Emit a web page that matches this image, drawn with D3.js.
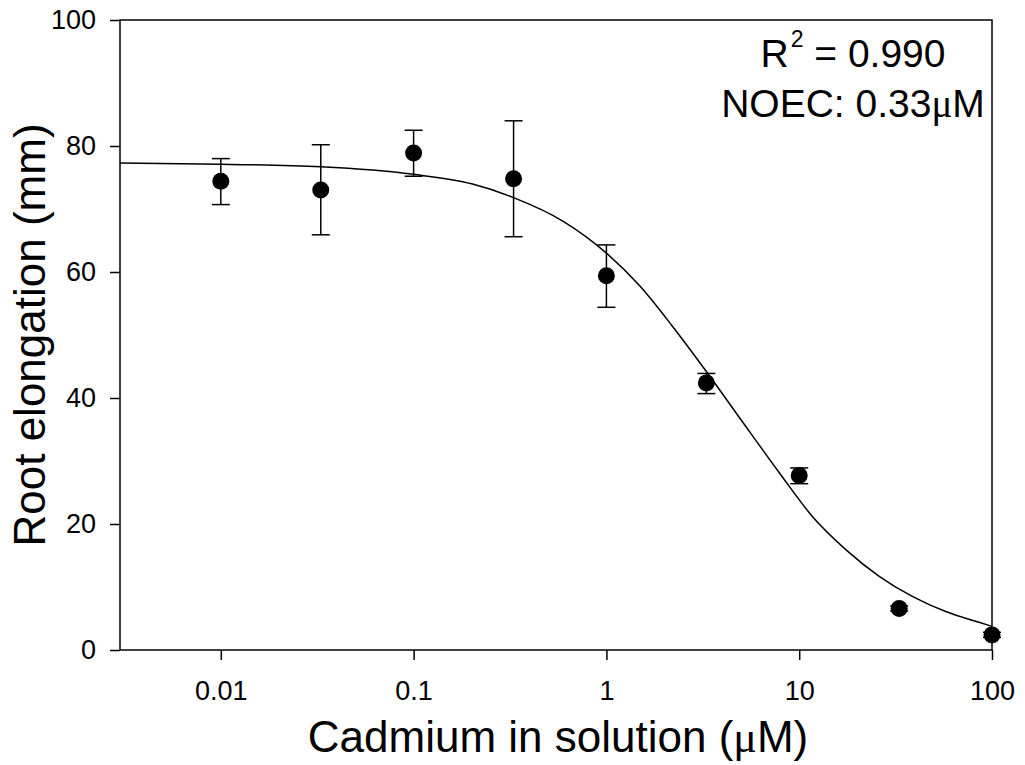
<!DOCTYPE html>
<html>
<head>
<meta charset="utf-8">
<script src="https://cdn.jsdelivr.net/npm/d3@7"></script>
<style>
  html, body { margin: 0; padding: 0; background: #fff; }
  svg { display: block; }
  text { font-family: "Liberation Sans", Arial, sans-serif; fill: #000; }
</style>
</head>
<body>
<svg id="chart" width="1025" height="765"></svg>
<script>
// ---- Data ----
const concentrations = [0.01, 0.033, 0.1, 0.33, 1, 3.3, 10, 33, 100];
const meanElongation = [74.4, 73.0, 78.9, 74.8, 59.4, 42.4, 27.7, 6.6, 2.4];
const errorUpper     = [78.0, 80.2, 82.5, 84.0, 64.3, 43.9, 28.9, 7.0, 2.8];
const errorLower     = [70.7, 65.9, 75.2, 65.6, 54.4, 40.7, 26.4, 6.2, 2.0];

// fitted curve, points
const curveX = [0.003, 0.01, 0.033, 0.1, 0.2, 0.33, 0.6, 1, 1.5, 2.2, 3.3, 5, 7.9, 11.7, 17.5, 26, 38.6, 57.5, 85.6, 100];
const curveY = [77.3, 77.1, 76.7, 75.5, 74.0, 71.8, 68.0, 63.0, 57.7, 51.4, 44.2, 36.5, 28.1, 21.2, 15.9, 11.7, 8.5, 6.1, 4.4, 3.75];

const xTicks = [0.01, 0.1, 1, 10, 100];
const xTickLabels = ["0.01", "0.1", "1", "10", "100"];
const yTicks = [0, 20, 40, 60, 80, 100];

const xDomain = [0.003, 100];
const yDomain = [0, 100];

// ---- Layout ----
const W = 1025, H = 765;
const margin = { left: 120, right: 33, top: 20, bottom: 115 };
const pw = W - margin.left - margin.right;
const ph = H - margin.top - margin.bottom;

const svg = d3.select("#chart");
const g = svg.append("g").attr("transform", `translate(${margin.left},${margin.top})`);

const x = d3.scaleLog().domain(xDomain).range([0, pw]);
const y = d3.scaleLinear().domain(yDomain).range([ph, 0]);

// Axes
const xAxis = d3.axisBottom(x)
  .tickValues(xTicks)
  .tickFormat((d, i) => xTickLabels[i])
  .tickSizeInner(10).tickSizeOuter(0).tickPadding(21);
const yAxis = d3.axisLeft(y)
  .tickValues(yTicks)
  .tickFormat(d3.format("d"))
  .tickSizeInner(10).tickSizeOuter(0).tickPadding(14);

const gx = g.append("g").attr("transform", `translate(0,${ph})`).call(xAxis);
const gy = g.append("g").call(yAxis);
[gx, gy].forEach(a => {
  a.select(".domain").remove();
  a.selectAll(".tick line").attr("stroke", "#000").attr("stroke-width", 1.5);
  a.selectAll(".tick text").attr("font-size", 27).attr("font-family", "Liberation Sans, Arial, sans-serif").attr("fill", "#000");
});

// Frame
g.append("rect")
  .attr("x", 0).attr("y", 0).attr("width", pw).attr("height", ph)
  .attr("fill", "none").attr("stroke", "#000").attr("stroke-width", 1.5);

// Fitted curve
const curvePts = curveX.map((v, i) => [v, curveY[i]]);
g.append("path")
  .datum(curvePts)
  .attr("fill", "none").attr("stroke", "#000").attr("stroke-width", 1.5)
  .attr("d", d3.line().x(d => x(d[0])).y(d => y(d[1])).curve(d3.curveMonotoneX));

// Error bars
const pts = concentrations.map((c, i) => ({ c, m: meanElongation[i], hi: errorUpper[i], lo: errorLower[i] }));
const capW = 9;
const eb = g.append("g").attr("stroke", "#000").attr("stroke-width", 1.5);
pts.forEach(p => {
  const cx = x(p.c);
  eb.append("line").attr("x1", cx).attr("x2", cx).attr("y1", y(p.hi)).attr("y2", y(p.lo));
  eb.append("line").attr("x1", cx - capW).attr("x2", cx + capW).attr("y1", y(p.hi)).attr("y2", y(p.hi));
  eb.append("line").attr("x1", cx - capW).attr("x2", cx + capW).attr("y1", y(p.lo)).attr("y2", y(p.lo));
});

// Points
g.append("g").selectAll("circle").data(pts).join("circle")
  .attr("cx", d => x(d.c)).attr("cy", d => y(d.m)).attr("r", 8.5).attr("fill", "#000");

// Axis titles
const xt = svg.append("text")
  .attr("x", margin.left + pw / 2 + 2).attr("y", 752)
  .attr("text-anchor", "middle").attr("font-size", 44);
xt.append("tspan").text("Cadmium in solution (");
xt.append("tspan").attr("font-family", "Liberation Serif, serif").text("\u03bc");
xt.append("tspan").text("M)");

svg.append("text")
  .attr("transform", `translate(45,${margin.top + ph / 2}) rotate(-90)`)
  .attr("text-anchor", "middle").attr("font-size", 44)
  .text("Root elongation (mm)");

// Annotations
const ann1 = svg.append("text").attr("x", 853).attr("y", 67)
  .attr("text-anchor", "middle").attr("font-size", 39);
ann1.append("tspan").text("R");
ann1.append("tspan").attr("font-size", 23).attr("dy", -20).attr("dx", 2).text("2");
ann1.append("tspan").attr("dy", 20).text(" = 0.990");

const ann2 = svg.append("text").attr("x", 853).attr("y", 117)
  .attr("text-anchor", "middle").attr("font-size", 39);
ann2.append("tspan").text("NOEC: 0.33");
ann2.append("tspan").attr("font-family", "Liberation Serif, serif").text("\u03bc");
ann2.append("tspan").text("M");
</script>
</body>
</html>
